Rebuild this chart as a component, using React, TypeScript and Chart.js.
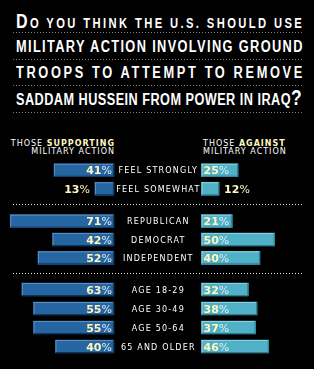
import React, { useEffect, useLayoutEffect, useRef } from "react";
import { Chart, registerables } from "chart.js";

Chart.register(...registerables);

// ---------- data ----------
const titleLines = [
  "DO YOU THINK THE U.S. SHOULD USE",
  "MILITARY ACTION INVOLVING GROUND",
  "TROOPS TO ATTEMPT TO REMOVE",
  "SADDAM HUSSEIN FROM POWER IN IRAQ?",
];

const intensityCategories = ["FEEL STRONGLY", "FEEL SOMEWHAT"];
const intensitySupport = [41, 13];
const intensityAgainst = [25, 12];

const partyCategories = ["REPUBLICAN", "DEMOCRAT", "INDEPENDENT"];
const partySupport = [71, 42, 52];
const partyAgainst = [21, 50, 40];

const ageCategories = ["AGE 18-29", "AGE 30-49", "AGE 50-64", "65 AND OLDER"];
const ageSupport = [63, 55, 55, 40];
const ageAgainst = [32, 38, 37, 46];

// ---------- style ----------
const GAP = 30; // half-gap (in % units) between the two bar sides, holds the middle labels
const X_MIN = -108;
const X_MAX = 107;
const SUPPORT_COLOR = "#2565a1";
const AGAINST_COLOR = "#4fb0c6";
const HIGHLIGHT = ["#5a8fc2", "#8ad0e2"];
const SHADOW = ["#0e3558", "#2d7c92"];
const DIGIT_COLOR = "#fff7c0";
const PCT_COLOR = "#e2ebf2";
const LABEL_FONT = '"DejaVu Sans", sans-serif';

type GroupProps = {
  categories: string[];
  support: number[];
  against: number[];
  top: number;
  height: number;
};

function GroupChart({ categories, support, against, top, height }: GroupProps) {
  const ref = useRef<HTMLCanvasElement | null>(null);

  useEffect(() => {
    if (!ref.current) return;
    const values = [support, against];

    const drawPlugin = {
      id: "divergingLabels",
      afterDatasetsDraw(chart: any) {
        const ctx = chart.ctx as CanvasRenderingContext2D;
        const cx = chart.scales.x.getPixelForValue(0);
        chart.data.datasets.forEach((_ds: any, di: number) => {
          const meta = chart.getDatasetMeta(di);
          meta.data.forEach((el: any, i: number) => {
            const p = el.getProps(["x", "y", "base", "height"], true);
            const left = Math.min(p.x, p.base);
            const right = Math.max(p.x, p.base);
            const t = p.y - p.height / 2;
            const b = p.y + p.height / 2;
            ctx.save();
            // bevel
            ctx.fillStyle = HIGHLIGHT[di];
            ctx.fillRect(left, t, right - left, 1);
            ctx.fillRect(left, t, 1, p.height);
            ctx.fillStyle = SHADOW[di];
            ctx.fillRect(left, b - 1, right - left, 1);
            ctx.fillRect(right - 1, t, 1, p.height);

            // value label
            const v = values[di][i];
            const digits = String(v);
            ctx.textBaseline = "alphabetic";
            ctx.textAlign = "left";
            ctx.font = `bold 11px ${LABEL_FONT}`;
            const wd = ctx.measureText(digits).width;
            ctx.font = `11px ${LABEL_FONT}`;
            const wp = ctx.measureText("%").width;
            const w = wd + wp;
            const inside = right - left > w + 3;
            let sx: number;
            if (di === 0) {
              sx = inside ? right - 2 - w : left - 5 - w;
            } else {
              sx = inside ? left + 2 : right + 5;
            }
            const by = p.y + 4;
            ctx.font = `bold 11px ${LABEL_FONT}`;
            ctx.fillStyle = DIGIT_COLOR;
            ctx.fillText(digits, sx, by);
            ctx.font = `11px ${LABEL_FONT}`;
            ctx.fillStyle = inside ? PCT_COLOR : DIGIT_COLOR;
            ctx.fillText("%", sx + wd, by);
            ctx.restore();
          });
        });

        // middle category labels
        const meta0 = chart.getDatasetMeta(0);
        ctx.save();
        ctx.font = `8px ${LABEL_FONT}`;
        (ctx as any).letterSpacing = "1.2px";
        ctx.fillStyle = "#ffffff";
        ctx.textAlign = "center";
        ctx.textBaseline = "alphabetic";
        (chart.data.labels as string[]).forEach((lab, i) => {
          const el = meta0.data[i] as any;
          ctx.fillText(lab, cx + 0.6, el.y + 3);
        });
        ctx.restore();
      },
    };

    const chart = new Chart(ref.current, {
      type: "bar",
      data: {
        labels: categories,
        datasets: [
          {
            label: "Those supporting military action",
            data: support.map((v) => [-GAP - v, -GAP]) as any,
            backgroundColor: SUPPORT_COLOR,
            borderWidth: 0,
            barThickness: 13,
            grouped: false,
          },
          {
            label: "Those against military action",
            data: against.map((v) => [GAP, GAP + v]) as any,
            backgroundColor: AGAINST_COLOR,
            borderWidth: 0,
            barThickness: 13,
            grouped: false,
          },
        ],
      },
      options: {
        indexAxis: "y",
        responsive: false,
        animation: false,
        layout: { padding: 0 },
        scales: {
          x: { type: "linear", min: X_MIN, max: X_MAX, display: false },
          y: { type: "category", display: false, offset: true },
        },
        plugins: {
          legend: { display: false },
          tooltip: { enabled: false },
          title: { display: false },
        },
      },
      plugins: [drawPlugin],
    });
    return () => chart.destroy();
  }, [categories, support, against]);

  return (
    <canvas
      ref={ref}
      width={314}
      height={height}
      style={{ position: "absolute", left: 0, top, width: 314, height }}
    />
  );
}

const dotted = (color: string) =>
  `repeating-linear-gradient(to right, ${color} 0px, ${color} 1px, transparent 1px, transparent 3px)`;

function Rule({ top, color }: { top: number; color: string }) {
  return (
    <div
      style={{
        position: "absolute",
        left: 13,
        top,
        width: 290,
        height: 1,
        background: dotted(color),
      }}
    />
  );
}

const titleFont = '"Liberation Sans", Arial, sans-serif';
const TITLE_WIDTH = 286;

function TitleLine({ text, top, index }: { text: string; top: number; index: number }) {
  const ref = useRef<HTMLSpanElement | null>(null);
  useLayoutEffect(() => {
    const el = ref.current;
    if (!el) return;
    el.style.letterSpacing = "0px";
    el.style.transform = "none";
    const w0 = el.offsetWidth;
    const n = text.length;
    const s = Math.min(0.8, TITLE_WIDTH / (w0 + (n - 1) * 0.6));
    const ls = (TITLE_WIDTH / s - w0) / (n - 1);
    el.style.letterSpacing = `${ls}px`;
    el.style.transform = `scaleX(${s})`;
  }, [text]);

  let content: React.ReactNode = text;
  if (index === 0) {
    content = (
      <>
        <span style={{ fontSize: 20 }}>{text[0]}</span>
        <span style={{ fontSize: 14 }}>{text.slice(1)}</span>
      </>
    );
  } else if (text.endsWith("?")) {
    content = (
      <>
        {text.slice(0, -1)}
        <span style={{ fontSize: 22 }}>?</span>
      </>
    );
  }
  return (
    <div
      style={{
        position: "absolute",
        left: 16,
        top,
        height: 20,
        lineHeight: "20px",
        fontFamily: titleFont,
        fontWeight: "bold",
        fontSize: 16,
        color: "#ffffff",
        whiteSpace: "nowrap",
      }}
    >
      <span
        ref={ref}
        style={{ display: "inline-block", whiteSpace: "nowrap", transformOrigin: "0 0" }}
      >
        {content}
      </span>
    </div>
  );
}

export default function App() {
  const headerStyle: React.CSSProperties = {
    position: "absolute",
    top: 140,
    fontFamily: LABEL_FONT,
    fontSize: 8,
    lineHeight: "8px",
    letterSpacing: "1px",
    color: "#ffffff",
    whiteSpace: "nowrap",
  };
  const strong: React.CSSProperties = { fontWeight: "bold", color: DIGIT_COLOR };
  const titleTops = [11, 37, 63, 88];
  return (
    <div
      style={{
        position: "absolute",
        left: 0,
        top: 0,
        width: 314,
        height: 369,
        background: "#000000",
        overflow: "hidden",
      }}
    >
      {titleLines.map((t, i) => (
        <TitleLine key={i} text={t} top={titleTops[i]} index={i} />
      ))}
      <Rule top={32} color="#7a7a7a" />
      <Rule top={59} color="#7a7a7a" />
      <Rule top={85} color="#7a7a7a" />
      <Rule top={112} color="#7a7a7a" />

      <div style={{ ...headerStyle, left: 0, width: 115, textAlign: "right" }}>
        <div>
          THOSE <span style={strong}>SUPPORTING</span>
        </div>
        <div>MILITARY ACTION</div>
      </div>
      <div style={{ ...headerStyle, left: 203, textAlign: "left" }}>
        <div>
          THOSE <span style={strong}>AGAINST</span>
        </div>
        <div>MILITARY ACTION</div>
      </div>

      <GroupChart
        categories={intensityCategories}
        support={intensitySupport}
        against={intensityAgainst}
        top={161}
        height={37}
      />
      <Rule top={204} color="#e8e8e8" />
      <GroupChart
        categories={partyCategories}
        support={partySupport}
        against={partyAgainst}
        top={212}
        height={55}
      />
      <Rule top={273} color="#e8e8e8" />
      <GroupChart
        categories={ageCategories}
        support={ageSupport}
        against={ageAgainst}
        top={280}
        height={76}
      />
    </div>
  );
}
